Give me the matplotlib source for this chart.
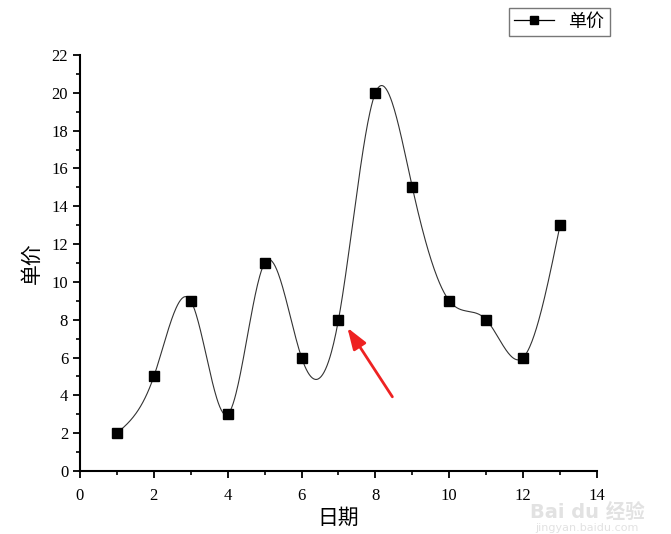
import numpy as np
import matplotlib
matplotlib.use("Agg")
from matplotlib import pyplot as plt
from matplotlib.ticker import MultipleLocator

plt.rcParams['font.family'] = ['Liberation Serif', 'Noto Sans CJK SC']

days = [1, 2, 3, 4, 5, 6, 7, 8, 9, 10, 11, 12, 13]
price = [2, 5, 9, 3, 11, 6, 8, 20, 15, 9, 8, 6, 13]
series_name = "单价"
xlabel = "日期"
ylabel = "单价"


def natural_spline(x, y, n=600):
    # plain natural cubic spline, just for the smooth line
    x = np.asarray(x, float)
    y = np.asarray(y, float)
    k = len(x)
    h = np.diff(x)
    A = np.zeros((k, k))
    b = np.zeros(k)
    A[0, 0] = A[-1, -1] = 1
    for i in range(1, k - 1):
        A[i, i - 1] = h[i - 1]
        A[i, i] = 2 * (h[i - 1] + h[i])
        A[i, i + 1] = h[i]
        b[i] = 3 * ((y[i + 1] - y[i]) / h[i] - (y[i] - y[i - 1]) / h[i - 1])
    c = np.linalg.solve(A, b)
    xs = np.linspace(x[0], x[-1], n)
    idx = np.clip(np.searchsorted(x, xs) - 1, 0, k - 2)
    dx = xs - x[idx]
    bb = (y[idx + 1] - y[idx]) / h[idx] - h[idx] * (2 * c[idx] + c[idx + 1]) / 3
    dd = (c[idx + 1] - c[idx]) / (3 * h[idx])
    ys = y[idx] + bb * dx + c[idx] * dx ** 2 + dd * dx ** 3
    return xs, ys


fig = plt.figure(figsize=(6.71, 5.34), dpi=100)
ax = fig.add_axes([0.1192, 0.118, 0.7705, 0.779])

xs, ys = natural_spline(days, price)
ax.plot(xs, ys, color="#333333", lw=0.8)
ax.plot(days, price, ls="none", marker="s", ms=6.5, color="black")

# legend handle: line with square marker
h, = ax.plot([], [], color="black", lw=0.9, marker="s", ms=6, label=series_name)
leg = fig.legend(handles=[h], loc="upper right", bbox_to_anchor=(0.909, 0.985),
                 borderaxespad=0, frameon=True, fancybox=False, edgecolor="#555555",
                 handlelength=2.2, borderpad=0.3, prop={'size': 13})
leg.get_frame().set_linewidth(1.0)

ax.annotate("", xy=(7.2, 7.7), xytext=(8.5, 3.8),
            arrowprops=dict(arrowstyle="-|>,head_length=1.3,head_width=0.45",
                            color="#ee2222", lw=2.0))

ax.set_xlim(0, 14)
ax.set_ylim(0, 22)
ax.xaxis.set_major_locator(MultipleLocator(2))
ax.xaxis.set_minor_locator(MultipleLocator(1))
ax.yaxis.set_major_locator(MultipleLocator(2))
ax.yaxis.set_minor_locator(MultipleLocator(1))
ax.spines['top'].set_visible(False)
ax.spines['right'].set_visible(False)
for s in ['left', 'bottom']:
    ax.spines[s].set_linewidth(1.5)
ax.tick_params(which="major", direction="out", length=5, width=1.3, labelsize=12)
ax.tick_params(axis="x", which="major", pad=7)
ax.tick_params(which="minor", direction="out", length=3, width=1.2)

ax.set_xlabel(xlabel, fontsize=15, labelpad=4)
ax.set_ylabel(ylabel, fontsize=15, labelpad=6)

# watermark, kept clear of the tick labels
fig.text(0.875, 0.03, "Bai du 经验", color="#e2e2e2", fontsize=14, ha="center",
         family=['DejaVu Sans', 'Noto Sans CJK SC'], fontweight="bold")
fig.text(0.875, 0.005, "jingyan.baidu.com", color="#e2e2e2", fontsize=8, ha="center",
         family=['DejaVu Sans'])

fig.savefig("out.png", dpi=100)
